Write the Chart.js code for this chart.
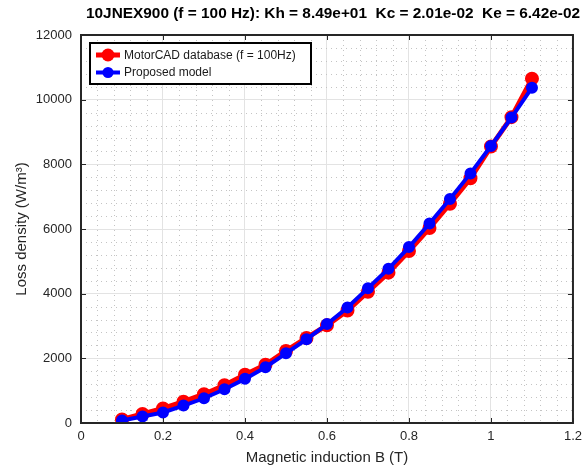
<!DOCTYPE html>
<html>
<head>
<meta charset="utf-8">
<script src="https://cdn.jsdelivr.net/npm/chart.js@4/dist/chart.umd.min.js"></script>
<style>
  html, body { margin: 0; padding: 0; background: #fff; }
  #wrap { width: 588px; height: 468px; }
</style>
</head>
<body>
<div id="wrap"><canvas id="myChart" width="588" height="468"></canvas></div>
<script>
// data
var titleText = "10JNEX900 (f = 100 Hz): Kh = 8.49e+01  Kc = 2.01e-02  Ke = 6.42e-02";
var bValues = [0.1, 0.15, 0.2, 0.25, 0.3, 0.35, 0.4, 0.45, 0.5, 0.55, 0.6, 0.65, 0.7, 0.75, 0.8, 0.85, 0.9, 0.95, 1.0, 1.05, 1.1];
var motorcadLoss = [110, 280, 450, 660, 890, 1170, 1490, 1800, 2230, 2630, 3020, 3480, 4060, 4650, 5320, 6030, 6780, 7570, 8550, 9460, 10650];
var modelLoss = [75, 200, 325, 540, 765, 1045, 1365, 1725, 2155, 2590, 3060, 3570, 4170, 4770, 5440, 6170, 6930, 7720, 8565, 9445, 10370];
var seriesNames = ["MotorCAD database (f = 100Hz)", "Proposed model"];
var xTicks = [0, 0.2, 0.4, 0.6, 0.8, 1, 1.2];
var yTicks = [0, 2000, 4000, 6000, 8000, 10000, 12000];

var FONT = "'Liberation Sans', Arial, sans-serif";
var axisColor = '#262626';

function toPoints(ys) {
    return bValues.map(function (b, i) { return { x: b, y: ys[i] }; });
}

// minor dotted grid, box frame with inward ticks, legend and title
var decorations = {
    id: 'decorations',
    beforeDatasetsDraw: function (chart) {
        var ctx = chart.ctx, a = chart.chartArea;
        var xs = chart.scales.x, ys = chart.scales.y;
        ctx.save();
        ctx.strokeStyle = '#c4c4c4';
        ctx.lineWidth = 1;
        ctx.setLineDash([1, 4]);
        for (var k = 1; k < 30; k++) {
            if (k % 5 === 0) continue;
            var px = Math.round(xs.getPixelForValue(k * 0.04)) + 0.5;
            ctx.beginPath(); ctx.moveTo(px, a.top); ctx.lineTo(px, a.bottom); ctx.stroke();
            var py = Math.round(ys.getPixelForValue(k * 400)) + 0.5;
            ctx.beginPath(); ctx.moveTo(a.left, py); ctx.lineTo(a.right, py); ctx.stroke();
        }
        ctx.restore();
    },
    afterDatasetsDraw: function (chart) {
        var ctx = chart.ctx, a = chart.chartArea;
        var xs = chart.scales.x, ys = chart.scales.y;
        ctx.save();
        ctx.strokeStyle = axisColor;
        ctx.lineWidth = 1;
        xTicks.forEach(function (v) {
            var px = Math.round(xs.getPixelForValue(v)) + 0.5;
            ctx.beginPath(); ctx.moveTo(px, a.bottom); ctx.lineTo(px, a.bottom - 5); ctx.stroke();
            ctx.beginPath(); ctx.moveTo(px, a.top); ctx.lineTo(px, a.top + 5); ctx.stroke();
        });
        yTicks.forEach(function (v) {
            var py = Math.round(ys.getPixelForValue(v)) + 0.5;
            ctx.beginPath(); ctx.moveTo(a.left, py); ctx.lineTo(a.left + 5, py); ctx.stroke();
            ctx.beginPath(); ctx.moveTo(a.right, py); ctx.lineTo(a.right - 5, py); ctx.stroke();
        });
        ctx.lineWidth = 2;
        ctx.strokeRect(a.left, a.top, a.right - a.left, a.bottom - a.top);
        ctx.restore();
    },
    afterDraw: function (chart) {
        var ctx = chart.ctx;
        ctx.save();
        // legend box
        var lx = 90, ly = 43, lw = 221, lh = 41;
        ctx.fillStyle = '#fff';
        ctx.fillRect(lx, ly, lw, lh);
        ctx.strokeStyle = '#000';
        ctx.lineWidth = 2;
        ctx.strokeRect(lx, ly, lw, lh);
        chart.data.datasets.forEach(function (ds, i) {
            var y = ly + 12 + i * 17.5;
            ctx.strokeStyle = ds.borderColor;
            ctx.lineWidth = ds.borderWidth;
            ctx.beginPath(); ctx.moveTo(96, y); ctx.lineTo(120, y); ctx.stroke();
            ctx.fillStyle = ds.borderColor;
            ctx.beginPath(); ctx.arc(108, y, i === 0 ? 6.5 : 5.5, 0, Math.PI * 2); ctx.fill();
            ctx.fillStyle = '#1a1a1a';
            ctx.font = '12px ' + FONT;
            ctx.textAlign = 'left';
            ctx.textBaseline = 'middle';
            ctx.fillText(ds.label, 124, y + 0.5);
        });
        // title
        ctx.fillStyle = '#000';
        ctx.font = 'bold 15.4px ' + FONT;
        ctx.textAlign = 'center';
        ctx.textBaseline = 'middle';
        ctx.fillText(titleText, 333, 14);
        ctx.restore();
    }
};

new Chart("myChart", {
    type: "line",
    data: {
        datasets: [{
            label: seriesNames[0],
            data: toPoints(motorcadLoss),
            order: 1,
            borderColor: '#ff0000',
            backgroundColor: '#ff0000',
            borderWidth: 5,
            pointRadius: 5,
            pointBorderWidth: 4,
            pointBackgroundColor: '#ff0000',
            pointBorderColor: '#ff0000',
            tension: 0
        }, {
            label: seriesNames[1],
            data: toPoints(modelLoss),
            order: 0,
            borderColor: '#0000ff',
            backgroundColor: '#0000ff',
            borderWidth: 4,
            pointRadius: 5,
            pointBorderWidth: 2,
            pointBackgroundColor: '#0000ff',
            pointBorderColor: '#0000ff',
            tension: 0
        }]
    },
    options: {
        responsive: false,
        animation: false,
        events: [],
        layout: { padding: { top: 35, right: 13, left: 0, bottom: 0 } },
        plugins: {
            legend: { display: false },
            title: { display: false },
            tooltip: { enabled: false }
        },
        scales: {
            x: {
                type: 'linear',
                min: 0,
                max: 1.2,
                afterFit: function (scale) { scale.height = 45; },
                afterBuildTicks: function (scale) {
                    scale.ticks = xTicks.map(function (v) { return { value: v }; });
                },
                ticks: {
                    padding: 6,
                    color: axisColor,
                    font: { family: FONT, size: 13 },
                    maxRotation: 0,
                    callback: function (v) { return String(Math.round(v * 10) / 10); }
                },
                grid: { color: '#e3e3e3', lineWidth: 1, drawTicks: false },
                border: { display: false },
                title: {
                    display: true,
                    text: 'Magnetic induction B (T)',
                    color: axisColor,
                    font: { family: FONT, size: 15 },
                    padding: { top: 0, bottom: 1 }
                }
            },
            y: {
                type: 'linear',
                min: 0,
                max: 12000,
                afterFit: function (scale) { scale.width = 81; },
                afterBuildTicks: function (scale) {
                    scale.ticks = yTicks.map(function (v) { return { value: v }; });
                },
                ticks: {
                    padding: 9,
                    color: axisColor,
                    font: { family: FONT, size: 13 },
                    callback: function (v) { return String(v); }
                },
                grid: { color: '#e3e3e3', lineWidth: 1, drawTicks: false },
                border: { display: false },
                title: {
                    display: true,
                    text: 'Loss density (W/m\u00b3)',
                    color: axisColor,
                    font: { family: FONT, size: 15 },
                    padding: { top: 13, bottom: 0 }
                }
            }
        }
    },
    plugins: [decorations]
});
</script>
</body>
</html>
